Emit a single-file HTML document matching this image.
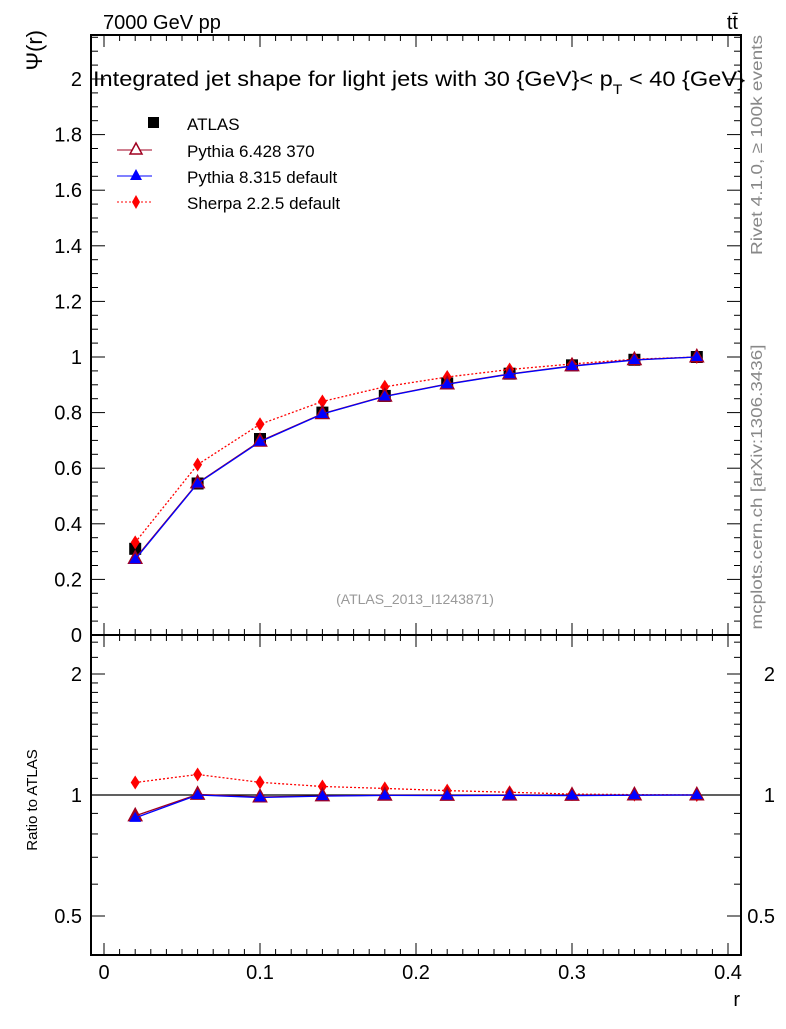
<!DOCTYPE html>
<html><head><meta charset="utf-8"><style>
body{margin:0;background:#fff;}
svg{font-family:"Liberation Sans",sans-serif;}
</style></head><body>
<svg id="c" width="786" height="1024" xmlns="http://www.w3.org/2000/svg">
<text x="103" y="29" font-size="20">7000 GeV pp</text>
<text x="738" y="29" font-size="20" text-anchor="end">tt̄</text>
<text x="93" y="86" font-size="21" textLength="652" lengthAdjust="spacingAndGlyphs">Integrated jet shape for light jets with 30 {GeV}&lt; p<tspan font-size="14" dy="8">T</tspan><tspan dy="-8"> &lt; 40 {GeV}</tspan></text>
<text transform="translate(762,145) rotate(-90)" font-size="16" fill="#888" text-anchor="middle" textLength="220" lengthAdjust="spacingAndGlyphs">Rivet 4.1.0, ≥ 100k events</text>
<text transform="translate(762,487) rotate(-90)" font-size="16" fill="#888" text-anchor="middle" textLength="285" lengthAdjust="spacingAndGlyphs">mcplots.cern.ch [arXiv:1306.3436]</text>
<text x="415" y="604" font-size="14" fill="#999" text-anchor="middle">(ATLAS_2013_I1243871)</text>
<text transform="translate(42,30) rotate(-90)" font-size="22" text-anchor="end">Ψ(r)</text>
<text transform="translate(37,800) rotate(-90)" font-size="15" text-anchor="middle">Ratio to ATLAS</text>
<text x="740" y="1006" font-size="20" text-anchor="end">r</text>
<g id="legend">
<g><rect x="148" y="117" width="11" height="11" fill="#000"/><text x="187" y="130" font-size="17">ATLAS</text></g>
<g><line x1="117" x2="152" y1="150" y2="150" stroke="#a00020"/><path d="M136,143 L142,154 L130,154Z" fill="#fff" stroke="#a00020" stroke-width="1.5"/><text x="187" y="157" font-size="17">Pythia 6.428 370</text></g>
<g><line x1="117" x2="152" y1="176" y2="176" stroke="#00f"/><path d="M136,169 L142,180 L130,180Z" fill="#00f"/><text x="187" y="183" font-size="17">Pythia 8.315 default</text></g>
<g><line x1="117" x2="152" y1="202" y2="202" stroke="#f00" stroke-dasharray="2,2"/><path d="M136,195 L140,202 L136,209 L132,202Z" fill="#f00"/><text x="187" y="209" font-size="17">Sherpa 2.2.5 default</text></g>
</g>
<g id="axes"></g>
<g id="marks"></g>
</svg>
<script>
const rVals=[0.02,0.06,0.10,0.14,0.18,0.22,0.26,0.30,0.34,0.38];
const atlas=[0.31,0.545,0.705,0.80,0.86,0.905,0.94,0.97,0.99,1.0];
const py6=[0.275,0.547,0.697,0.796,0.859,0.903,0.939,0.968,0.990,1.0];
const py8=[0.272,0.545,0.695,0.795,0.858,0.902,0.938,0.967,0.989,1.0];
const sherpa=[0.333,0.613,0.758,0.840,0.893,0.928,0.955,0.975,0.992,1.0];
const xTicks=[0,0.1,0.2,0.3,0.4];
const yTicks=[0,0.2,0.4,0.6,0.8,1,1.2,1.4,1.6,1.8,2];
const rTicks=[0.5,1,2];
const NS="http://www.w3.org/2000/svg";
const L=91,R=741,T=35,M=635,B=955;
const X=v=>104+v*1560;
const Y=v=>635-v*278;
const YR=v=>795-Math.log2(v)*121;
const ax=document.getElementById('axes'),mk=document.getElementById('marks');
function el(tag,at,p){const e=document.createElementNS(NS,tag);for(const k in at)e.setAttribute(k,at[k]);(p||ax).appendChild(e);return e;}
function ln(x1,y1,x2,y2,w){return el('line',{x1,y1,x2,y2,stroke:'#000','stroke-width':w||1});}
el('rect',{x:L,y:T,width:R-L,height:M-T,fill:'none',stroke:'#000','stroke-width':2});
el('rect',{x:L,y:M,width:R-L,height:B-M,fill:'none',stroke:'#000','stroke-width':2});
for(let i=0;i<=40;i++){const v=i/100,x=X(v);if(x>R)break;const len=i%10==0?12:6;
[T,M].forEach(y0=>{ln(x,y0,x,y0+len);});[M,B].forEach(y0=>{ln(x,y0,x,y0-len);});}
xTicks.forEach(v=>{const t=el('text',{x:X(v),y:979,'font-size':20,'text-anchor':'middle'});t.textContent=String(v);

});
for(let i=0;i<=43;i++){const v=i*0.05,y=Y(v);if(y<T)break;const len=i%4==0?14:7;ln(L,y,L+len,y);ln(R,y,R-len,y);}
yTicks.forEach(v=>{const t=el('text',{x:82,y:Y(v)+7,'font-size':20,'text-anchor':'end'});t.textContent=String(v);

});
[0.4,0.5,0.6,0.7,0.8,0.9,1,1.1,1.2,1.3,1.4,1.5,1.6,1.7,1.8,1.9,2,2.2,2.4].forEach(v=>{const y=YR(v);if(y<M||y>B)return;const len=rTicks.includes(v)?14:7;ln(L,y,L+len,y);ln(R,y,R-len,y);});
rTicks.forEach(v=>{[82,775].forEach((xx,j)=>{const t=el('text',{x:xx,y:YR(v)+7,'font-size':20,'text-anchor':'end'});t.textContent=String(v);

});});
ln(L,YR(1),R,YR(1),1.2);
function series(vals,yf,col,dash,marker,name){
 const g=el('g',{},mk);
 
 
 if(col){el('polyline',{points:vals.map((v,i)=>X(rVals[i])+','+yf(v)).join(' '),fill:'none',stroke:col,'stroke-width':1.3,'stroke-dasharray':dash||'none'},g);}
 vals.forEach((v,i)=>{const x=X(rVals[i]),y=yf(v);let m;
  if(marker=='sq')m=el('rect',{x:x-6,y:y-6,width:12,height:12,fill:'#000'},g);
  else if(marker=='tri6')m=el('path',{d:`M${x},${y-8}L${x+7},${y+5}L${x-7},${y+5}Z`,fill:'#a00020',stroke:'#a00020','stroke-width':1},g);
  else if(marker=='tri8')m=el('path',{d:`M${x},${y-6}L${x+6},${y+4}L${x-6},${y+4}Z`,fill:'#00f'},g);
  else m=el('path',{d:`M${x},${y-7}L${x+4.5},${y}L${x},${y+7}L${x-4.5},${y}Z`,fill:'#f00'},g);
  
  });
}
series(atlas,Y,null,null,'sq','atlas-series');
series(sherpa,Y,'#f00','2,2','dia','sherpa-series');
series(py6,Y,'#a00020',null,'tri6','pythia6-series');
series(py8,Y,'#00f',null,'tri8','pythia8-series');
series(sherpa.map((v,i)=>v/atlas[i]),YR,'#f00','2,2','dia','sherpa-ratio');
series(py6.map((v,i)=>v/atlas[i]),YR,'#a00020',null,'tri6','pythia6-ratio');
series(py8.map((v,i)=>v/atlas[i]),YR,'#00f',null,'tri8','pythia8-ratio');
</script>
</body></html>
